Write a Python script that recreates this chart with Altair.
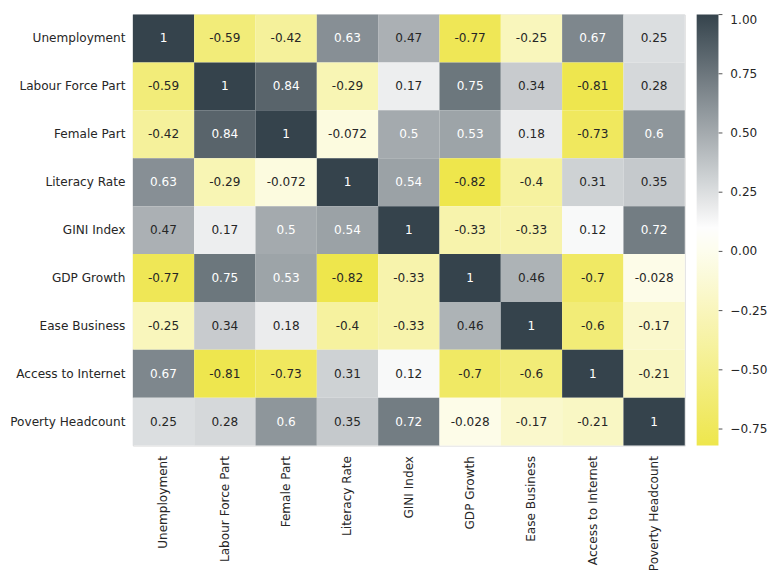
import altair as alt
import pandas as pd

labels = ["Unemployment", "Labour Force Part", "Female Part", "Literacy Rate",
          "GINI Index", "GDP Growth", "Ease Business", "Access to Internet",
          "Poverty Headcount"]

corr = [
    [1, -0.59, -0.42, 0.63, 0.47, -0.77, -0.25, 0.67, 0.25],
    [-0.59, 1, 0.84, -0.29, 0.17, 0.75, 0.34, -0.81, 0.28],
    [-0.42, 0.84, 1, -0.072, 0.5, 0.53, 0.18, -0.73, 0.6],
    [0.63, -0.29, -0.072, 1, 0.54, -0.82, -0.4, 0.31, 0.35],
    [0.47, 0.17, 0.5, 0.54, 1, -0.33, -0.33, 0.12, 0.72],
    [-0.77, 0.75, 0.53, -0.82, -0.33, 1, 0.46, -0.7, -0.028],
    [-0.25, 0.34, 0.18, -0.4, -0.33, 0.46, 1, -0.6, -0.17],
    [0.67, -0.81, -0.73, 0.31, 0.12, -0.7, -0.6, 1, -0.21],
    [0.25, 0.28, 0.6, 0.35, 0.72, -0.028, -0.17, -0.21, 1],
]

legend_ticks = [1.0, 0.75, 0.5, 0.25, 0.0, -0.25, -0.5, -0.75]

rows = []
for i, rl in enumerate(labels):
    for j, cl in enumerate(labels):
        v = corr[i][j]
        rows.append({"row": rl, "col": cl, "value": v, "label": format(v, ".2g")})
df = pd.DataFrame(rows)
ticks_df = pd.DataFrame({"t": legend_ticks})

vmin, vmax = -0.82, 1.0
mid = (vmin + vmax) / 2

FONT = "DejaVu Sans"
TXT = "#262626"
FS = 12.2

xaxis = alt.Axis(labelAngle=270, labelAlign="right", labelBaseline="middle",
                 ticks=False, domain=False, labelPadding=10,
                 labelFontSize=FS, labelFont=FONT, labelColor=TXT, labelLimit=200)

base = alt.Chart(df)

rect = base.mark_rect().encode(
    x=alt.X("col:N", sort=labels, title=None,
            scale=alt.Scale(paddingInner=0, paddingOuter=0), axis=xaxis),
    y=alt.Y("row:N", sort=labels, title=None,
            scale=alt.Scale(paddingInner=0, paddingOuter=0),
            axis=alt.Axis(ticks=False, domain=False, labelPadding=8,
                          labelFontSize=FS, labelFont=FONT, labelColor=TXT,
                          labelLimit=200)),
    color=alt.Color("value:Q",
                    scale=alt.Scale(domain=[vmin, mid, vmax],
                                    range=["#eee64c", "#ffffff", "#35434c"],
                                    interpolate="rgb"),
                    legend=alt.Legend(title=None, orient="none", legendX=569, legendY=0,
                                      direction="vertical", gradientLength=435,
                                      gradientThickness=22, values=legend_ticks,
                                      format=".2f", labelFontSize=FS, labelFont=FONT,
                                      labelColor=TXT, labelOffset=12,
                                      gradientStrokeWidth=0)),
)

text = base.mark_text(fontSize=FS, font=FONT).encode(
    x=alt.X("col:N", sort=labels, title=None, axis=xaxis),
    y=alt.Y("row:N", sort=labels, axis=None,
            scale=alt.Scale(paddingInner=0, paddingOuter=0)),
    text="label:N",
    color=alt.condition(alt.datum.value > 0.48, alt.value("#ffffff"), alt.value(TXT)),
)

cbar_ticks = alt.Chart(ticks_df).mark_rule(color=TXT, strokeWidth=0.8).encode(
    x=alt.value(591), x2=alt.value(595),
    y=alt.Y("t:Q", axis=None, scale=alt.Scale(domain=[vmin, vmax], nice=False, zero=False)),
)

chart = (rect + text + cbar_ticks).resolve_scale(y="independent").properties(
    width=557, height=435,
    autosize=alt.AutoSizeParams(type="none"),
    padding={"left": 126, "top": 4, "right": 85, "bottom": 132},
).configure_view(stroke=None).configure(background="white")

chart.save("out.html", embed_options={"renderer": "svg", "actions": False})
